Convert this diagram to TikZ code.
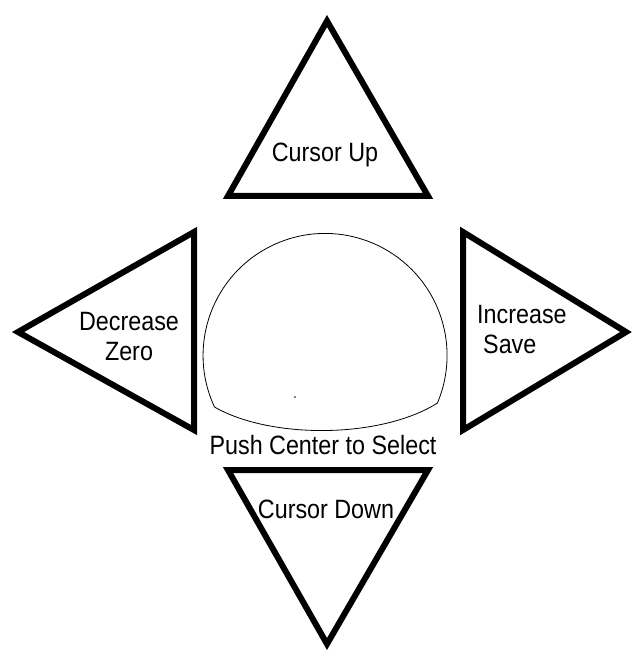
\documentclass[tikz,border=0pt]{standalone}
\usepackage{fontspec}
\setmainfont[FakeStretch=0.88]{Liberation Sans}
\begin{document}
\begin{tikzpicture}[x=1pt,y=-1pt,
  arrowtri/.style={draw,line width=6pt,line join=miter},
  btntext/.style={font=\fontsize{26.5}{30}\selectfont,inner sep=0pt}]
  \useasboundingbox (0,0) rectangle (637,652);
  % the four arrow keys
  \draw[arrowtri] (327,21) -- (428,196) -- (228,196) -- cycle;
  \draw[arrowtri] (18,332) -- (194,232) -- (194,430) -- cycle;
  \draw[arrowtri] (463,232) -- (626,332) -- (463,430) -- cycle;
  \draw[arrowtri] (228,470) -- (428,470) -- (327,644) -- cycle;
  \node[btntext] (up) at (325,155) {Cursor Up};
  \node[btntext,align=center] (decrease) at (129,337) {Decrease\\Zero};
  \node[btntext,align=left,anchor=west] (increase) at (477,330) {Increase\\\hspace{6pt}Save};
  \node[btntext] (down) at (326,509) {Cursor Down};
  % centre push button
  \draw[line width=0.8pt] (214.5,407) arc[start angle=155,end angle=383,radius=122]
    .. controls (380,439) and (270,439) .. cycle;
  \fill (295,397) circle[radius=0.8];
  \node[btntext] (push) at (323,445) {Push Center to Select};
\end{tikzpicture}
\end{document}
